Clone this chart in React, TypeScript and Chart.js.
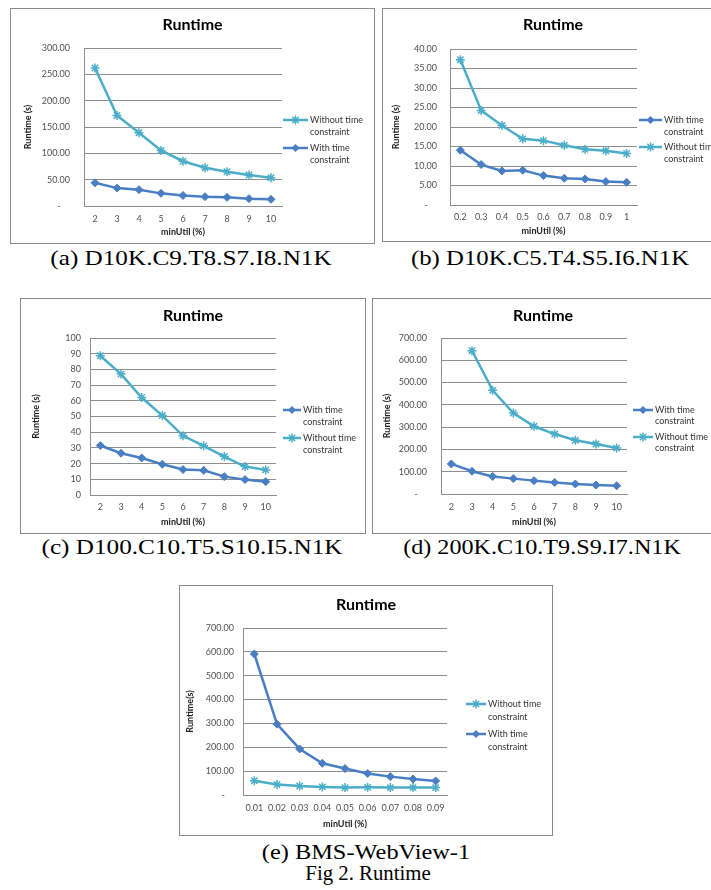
import React, { useEffect, useRef } from "react";
import { Chart, registerables } from "chart.js";
Chart.register(...registerables);

// ---------- data ----------
const WITH_LABEL = ["With time", "constraint"];
const WITHOUT_LABEL = ["Without time", "constraint"];

const catA = ["2", "3", "4", "5", "6", "7", "8", "9", "10"];
const withA = [44, 34, 31, 24, 20, 17.7, 16.4, 14, 12.6];
const withoutA = [262, 172, 139, 105.5, 85, 72.6, 65, 58.7, 53.7];

const catB = ["0.2", "0.3", "0.4", "0.5", "0.6", "0.7", "0.8", "0.9", "1"];
const withB = [14.05, 10.36, 8.74, 8.9, 7.54, 6.85, 6.68, 6.0, 5.82];
const withoutB = [37.26, 24.24, 20.4, 16.96, 16.5, 15.3, 14.3, 13.9, 13.2];

const catC = ["2", "3", "4", "5", "6", "7", "8", "9", "10"];
const withC = [31.5, 26.6, 23.6, 19.6, 16.2, 15.7, 11.7, 9.8, 8.5];
const withoutC = [88.7, 77.0, 62.1, 50.6, 37.7, 31.3, 24.5, 18.1, 16.0];

const catD = ["2", "3", "4", "5", "6", "7", "8", "9", "10"];
const withD = [135, 102, 79, 69, 60, 52, 45, 40, 37];
const withoutD = [null, 643, 465, 363, 304, 269, 241, 224, 206];

const catE = ["0.01", "0.02", "0.03", "0.04", "0.05", "0.06", "0.07", "0.08", "0.09"];
const withE = [591, 297, 193, 133, 111, 90, 77, 67, 59];
const withoutE = [60, 44, 38, 34, 31, 32, 31, 31, 31];

const yAxisA = { max: 300, step: 50, fmt: "fixed2" };
const yAxisB = { max: 40, step: 5, fmt: "fixed2" };
const yAxisC = { max: 100, step: 10, fmt: "int" };
const yAxisD = { max: 700, step: 100, fmt: "fixed2" };
const yAxisE = { max: 700, step: 100, fmt: "fixed2" };

const captions = [
  "(a) D10K.C9.T8.S7.I8.N1K",
  "(b) D10K.C5.T4.S5.I6.N1K",
  "(c) D100.C10.T5.S10.I5.N1K",
  "(d) 200K.C10.T9.S9.I7.N1K",
  "(e) BMS-WebView-1",
  "Fig 2. Runtime",
];

// ---------- styles ----------
const BLUE = "#4A7EC2";
const CYAN = "#4BADC8";
const GRID = "#8E8E8E";
const TICK = "#505050";
const FONT = "Lato, 'Open Sans', sans-serif";

function withDs(data: (number | null)[]) {
  return {
    label: WITH_LABEL as any,
    data,
    borderColor: BLUE,
    backgroundColor: BLUE,
    pointStyle: "rectRot",
    pointRadius: 4,
    pointBorderWidth: 1,
    borderWidth: 2.5,
    tension: 0,
  };
}
function withoutDs(data: (number | null)[]) {
  return {
    label: WITHOUT_LABEL as any,
    data,
    borderColor: CYAN,
    backgroundColor: CYAN,
    pointStyle: "star",
    pointRadius: 4.5,
    pointBorderWidth: 1.5,
    borderWidth: 2.5,
    tension: 0,
  };
}

type PanelCfg = {
  box: { left: number; top: number; width: number; height: number };
  plot: { l: number; r: number; t: number; b: number };
  titleY: number;
  yTitle: string;
  yTitleX: number;
  yTickGap: number;
  xLabelY: number;
  xTitleY: number;
  legend: { x0: number; x1: number; tx: number; y: number; lh: number; gap: number; order: number[] };
  cats: string[];
  datasets: any[];
  yAxis: { max: number; step: number; fmt: string };
};

const panels: PanelCfg[] = [
  {
    box: { left: 10, top: 8, width: 365, height: 236 },
    plot: { l: 73, r: 271, t: 39, b: 197 },
    titleY: 16, yTitle: "Runtime (s)", yTitleX: 17, yTickGap: 14, xLabelY: 210, xTitleY: 223,
    legend: { x0: 272, x1: 297, tx: 299, y: 111, lh: 12, gap: 28, order: [1, 0] },
    cats: catA, datasets: [withDs(withA), withoutDs(withoutA)], yAxis: yAxisA,
  },
  {
    box: { left: 382, top: 8, width: 342, height: 234 },
    plot: { l: 67, r: 254, t: 40, b: 196 },
    titleY: 16, yTitle: "Runtime (s)", yTitleX: 13, yTickGap: 13, xLabelY: 208, xTitleY: 222,
    legend: { x0: 256, x1: 279, tx: 281, y: 111, lh: 12, gap: 27, order: [0, 1] },
    cats: catB, datasets: [withDs(withB), withoutDs(withoutB)], yAxis: yAxisB,
  },
  {
    box: { left: 20, top: 298, width: 346, height: 236 },
    plot: { l: 69, r: 255, t: 39, b: 196 },
    titleY: 17, yTitle: "Runtime (s)", yTitleX: 15, yTickGap: 9, xLabelY: 208, xTitleY: 223,
    legend: { x0: 262, x1: 280, tx: 282, y: 111, lh: 12, gap: 28, order: [0, 1] },
    cats: catC, datasets: [withDs(withC), withoutDs(withoutC)], yAxis: yAxisC,
  },
  {
    box: { left: 372, top: 298, width: 342, height: 236 },
    plot: { l: 68, r: 254, t: 39, b: 195 },
    titleY: 17, yTitle: "Runtime (s)", yTitleX: 14, yTickGap: 14, xLabelY: 208, xTitleY: 223,
    legend: { x0: 260, x1: 280, tx: 282, y: 111, lh: 11.5, gap: 27, order: [0, 1] },
    cats: catD, datasets: [withDs(withD), withoutDs(withoutD)], yAxis: yAxisD,
  },
  {
    box: { left: 179, top: 585, width: 374, height: 251 },
    plot: { l: 63, r: 267, t: 42, b: 209 },
    titleY: 19, yTitle: "Runtime(s)", yTitleX: 10, yTickGap: 9, xLabelY: 222, xTitleY: 238,
    legend: { x0: 286, x1: 306, tx: 308, y: 118, lh: 13, gap: 30, order: [1, 0] },
    cats: catE, datasets: [withDs(withE), withoutDs(withoutE)], yAxis: yAxisE,
  },
];

const captionPos = [
  { cx: 191, cy: 258, sx: 1.2 },
  { cx: 550, cy: 258, sx: 1.18 },
  { cx: 192, cy: 547, sx: 1.2 },
  { cx: 542, cy: 547, sx: 1.15 },
  { cx: 366, cy: 852, sx: 1.16 },
  { cx: 368, cy: 873, sx: 0.99 },
];

function drawMarker(ctx: CanvasRenderingContext2D, style: string, x: number, y: number, r: number, color: string) {
  ctx.save();
  ctx.fillStyle = color;
  ctx.strokeStyle = color;
  if (style === "rectRot") {
    ctx.beginPath();
    ctx.moveTo(x, y - r);
    ctx.lineTo(x + r, y);
    ctx.lineTo(x, y + r);
    ctx.lineTo(x - r, y);
    ctx.closePath();
    ctx.fill();
  } else {
    ctx.lineWidth = 1.5;
    ctx.beginPath();
    const d = r * Math.SQRT1_2;
    ctx.moveTo(x - r, y); ctx.lineTo(x + r, y);
    ctx.moveTo(x, y - r); ctx.lineTo(x, y + r);
    ctx.moveTo(x - d, y - d); ctx.lineTo(x + d, y + d);
    ctx.moveTo(x - d, y + d); ctx.lineTo(x + d, y - d);
    ctx.stroke();
  }
  ctx.restore();
}

function Panel({ cfg }: { cfg: PanelCfg }) {
  const ref = useRef<HTMLCanvasElement>(null);
  const W = cfg.box.width - 2;
  const H = cfg.box.height - 2;
  useEffect(() => {
    if (!ref.current) return;
    const { plot, legend } = cfg;
    const legendPlugin = {
      id: "xlLegend",
      afterDraw(chart: any) {
        const ctx = chart.ctx as CanvasRenderingContext2D;
        ctx.save();
        legend.order.forEach((di, k) => {
          const ds = chart.data.datasets[di];
          const y = legend.y + k * legend.gap;
          ctx.strokeStyle = ds.borderColor;
          ctx.lineWidth = 2.5;
          ctx.beginPath();
          ctx.moveTo(legend.x0, y);
          ctx.lineTo(legend.x1, y);
          ctx.stroke();
          drawMarker(ctx, ds.pointStyle, (legend.x0 + legend.x1) / 2, y, ds.pointRadius, ds.borderColor);
          ctx.fillStyle = "#333";
          ctx.font = `9px ${FONT}`;
          ctx.textBaseline = "middle";
          ctx.textAlign = "left";
          (ds.label as string[]).forEach((t, i) => ctx.fillText(t, legend.tx, y + i * legend.lh));
        });
        ctx.restore();
      },
    };
    const fmt = cfg.yAxis.fmt;
    const chart = new Chart(ref.current, {
      type: "line",
      data: { labels: cfg.cats, datasets: cfg.datasets },
      options: {
        responsive: false,
        animation: false,
        layout: { padding: 0 },
        plugins: {
          legend: { display: false },
          tooltip: { enabled: false },
          title: {
            display: true,
            text: "Runtime",
            color: "#000",
            font: { family: FONT, size: 16, weight: "bold", lineHeight: 1 },
            padding: { top: cfg.titleY - 8, bottom: plot.t - cfg.titleY - 8 },
          },
        },
        scales: {
          x: {
            type: "category",
            offset: true,
            grid: { display: false, drawTicks: false },
            border: { display: true, color: GRID, width: 1 },
            ticks: {
              font: { family: FONT, size: 9 },
              color: TICK,
              padding: cfg.xLabelY - plot.b - 5.4,
              maxRotation: 0,
              autoSkip: false,
            },
            title: {
              display: true,
              text: "minUtil (%)",
              color: "#222",
              font: { family: FONT, size: 9, weight: "bold" },
              padding: { top: 0, bottom: H - cfg.xTitleY - 5.4 },
            },
            afterFit: (s: any) => { s.height = H - plot.b; },
          },
          y: {
            min: 0,
            max: cfg.yAxis.max,
            ticks: {
              stepSize: cfg.yAxis.step,
              padding: cfg.yTickGap,
              font: { family: FONT, size: 9 },
              color: TICK,
              callback: (v: any) => (fmt === "int" ? String(v) : Number(v) === 0 ? "-    " : Number(v).toFixed(2)),
            },
            grid: { color: GRID, drawTicks: false, lineWidth: 1 },
            border: { display: true, color: GRID },
            title: {
              display: true,
              text: cfg.yTitle,
              color: "#222",
              font: { family: FONT, size: 9, weight: "bold" },
              padding: { top: cfg.yTitleX - 5.4, bottom: 0 },
            },
            afterFit: (s: any) => { s.width = plot.l; },
          },
          yR: {
            position: "right",
            display: true,
            grid: { display: false, drawTicks: false },
            border: { display: false },
            ticks: { display: false },
            afterFit: (s: any) => { s.width = W - plot.r; },
          },
        },
      } as any,
      plugins: [legendPlugin],
    });
    return () => chart.destroy();
  }, []);
  return (
    <div
      style={{
        position: "absolute",
        left: cfg.box.left,
        top: cfg.box.top,
        width: cfg.box.width,
        height: cfg.box.height,
        border: "1px solid #8A8A8A",
        boxSizing: "border-box",
        background: "#fff",
      }}
    >
      <canvas ref={ref} width={W} height={H} style={{ display: "block", width: W, height: H }} />
    </div>
  );
}

export default function App() {
  return (
    <div
      style={{
        position: "absolute",
        left: 0,
        top: 0,
        width: 711,
        height: 890,
        overflow: "hidden",
        background: "#fff",
      }}
    >
      {panels.map((p, i) => (
        <Panel key={i} cfg={p} />
      ))}
      {captions.map((c, i) => (
        <div
          key={"c" + i}
          style={{
            position: "absolute",
            left: captionPos[i].cx - 200,
            width: 400,
            top: captionPos[i].cy - 11,
            textAlign: "center",
            fontFamily: "'Liberation Serif', 'Times New Roman', serif",
            fontSize: 21,
            lineHeight: "22px",
            whiteSpace: "nowrap",
            color: "#000",
            transform: `scaleX(${captionPos[i].sx})`,
            transformOrigin: "center",
          }}
        >
          {c}
        </div>
      ))}
    </div>
  );
}
